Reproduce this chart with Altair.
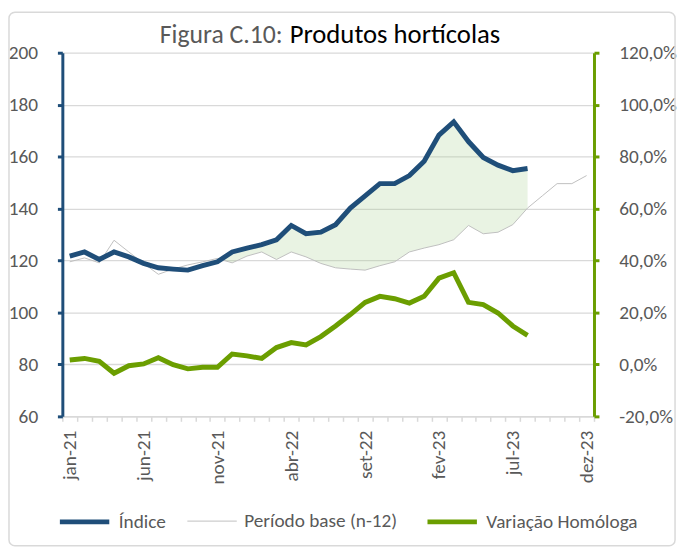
import json
import altair as alt
import pandas as pd

# ---------------- data ----------------
months = ["jan-21", "fev-21", "mar-21", "abr-21", "mai-21", "jun-21", "jul-21", "ago-21", "set-21", "out-21", "nov-21", "dez-21",
          "jan-22", "fev-22", "mar-22", "abr-22", "mai-22", "jun-22", "jul-22", "ago-22", "set-22", "out-22", "nov-22", "dez-22",
          "jan-23", "fev-23", "mar-23", "abr-23", "mai-23", "jun-23", "jul-23", "ago-23", "set-23", "out-23", "nov-23", "dez-23"]

indice = [121.7, 123.3, 120.4, 123.3, 121.4, 118.9, 117.2, 116.7, 116.3, 118.0, 119.5, 123.3,
          124.8, 126.1, 128.0, 133.5, 130.3, 130.9, 133.8, 140.2, 144.9, 149.6, 149.6, 152.7,
          158.2, 168.3, 173.4, 165.8, 159.7, 156.7, 154.6, 155.4]

periodo_base = [119.5, 121.0, 119.1, 127.8, 123.3, 118.9, 114.7, 116.7, 118.3, 119.5, 120.8, 119.1,
                121.7, 123.3, 120.4, 123.3, 121.4, 118.9, 117.2, 116.7, 116.3, 118.0, 119.5, 123.3,
                124.8, 126.1, 128.0, 133.5, 130.3, 130.9, 133.8, 140.2, 144.9, 149.6, 149.6, 152.7]

variacao = [0.017, 0.023, 0.012, -0.034, -0.005, 0.002, 0.026, -0.001, -0.017, -0.011, -0.011, 0.040,
            0.033, 0.023, 0.065, 0.084, 0.075, 0.107, 0.148, 0.192, 0.239, 0.262, 0.253, 0.236,
            0.262, 0.332, 0.353, 0.239, 0.230, 0.198, 0.148, 0.112]

series_names = ["Índice", "Período base (n-12)", "Variação Homóloga"]
left_ticks = [60, 80, 100, 120, 140, 160, 180, 200]
right_ticks = [-0.2, 0.0, 0.2, 0.4, 0.6, 0.8, 1.0, 1.2]
fill_start = 10

# ---------------- style ----------------
BLUE = "#1F4E79"
GREEN = "#6B9E00"
GRAY = "#BFBFBF"
GRID = "#D9D9D9"
TXT = "#595959"
FONT = "Carlito, Lato, sans-serif"
FS = 19.5
W, H = 538, 368

rows = []
for i, v in enumerate(indice):
    rows.append({"idx": i, "serie": series_names[0], "v": v})
for i, v in enumerate(periodo_base):
    rows.append({"idx": i, "serie": series_names[1], "v": v})
left_df = pd.DataFrame(rows)
right_df = pd.DataFrame({"idx": list(range(len(variacao))), "serie": series_names[2], "v": variacao})
fill_idx = list(range(fill_start, len(indice)))
fill_df = pd.DataFrame({
    "idx": fill_idx,
    "lo": [periodo_base[i] for i in fill_idx],
    "hi": [max(indice[i], periodo_base[i]) for i in fill_idx],
})

n = len(months)
tick_vals = [k - 0.5 for k in range(n + 1)]
lab_arr = [months[k] if k % 5 == 0 else "" for k in range(n)] + [""]
label_expr = json.dumps(lab_arr) + "[round(datum.value + 0.5)]"

x_scale = alt.Scale(domain=[-0.5, n - 0.5], nice=False, zero=False)
x_axis = alt.Axis(values=tick_vals, labelExpr=label_expr, labelAngle=270, grid=False,
                  domainColor=GRID, domainWidth=1.5, tickColor=GRID, tickWidth=1.5, tickSize=5,
                  labelPadding=9, labelOffset=W / n / 2, labelFlush=False, labelOverlap=False,
                  labelFontSize=FS, labelColor=TXT, labelFont=FONT, title=None)
x_enc = alt.X("idx:Q", scale=x_scale, axis=x_axis)

leg = alt.Legend(title=None, orient="none", legendX=-5, legendY=447, direction="horizontal",
                 symbolType="stroke", symbolSize=2500, labelFontSize=FS, labelColor=TXT,
                 labelFont=FONT, columnPadding=19, labelOffset=7, labelLimit=400)
color_enc = alt.Color("serie:N", scale=alt.Scale(domain=series_names, range=[BLUE, GRAY, GREEN]), legend=leg)
sw_enc = alt.StrokeWidth("serie:N", scale=alt.Scale(type="ordinal", domain=series_names, range=[5, 1, 5]),
                         legend=leg)

y_left_scale = alt.Scale(domain=[60, 200], nice=False, zero=False)
y_left_axis = alt.Axis(values=left_ticks, grid=True, gridColor=GRID, gridWidth=1.3,
                       domainColor=BLUE, domainWidth=3, tickColor=BLUE, tickWidth=3, tickSize=5,
                       labelPadding=20, labelFontSize=FS, labelColor=TXT, labelFont=FONT, title=None)
y_left = alt.Y("v:Q", scale=y_left_scale, axis=y_left_axis)

area = alt.Chart(fill_df).mark_area(color="#A9D08E", opacity=0.25).encode(
    x=x_enc,
    y=alt.Y("lo:Q", scale=y_left_scale, axis=y_left_axis),
    y2="hi:Q",
)

gray_line = alt.Chart(left_df[left_df.serie == series_names[1]]).mark_line().encode(
    x=x_enc, y=y_left, color=color_enc, strokeWidth=sw_enc,
)
blue_line = alt.Chart(left_df[left_df.serie == series_names[0]]).mark_line().encode(
    x=x_enc, y=y_left, color=color_enc, strokeWidth=sw_enc,
)

title_df = pd.DataFrame({"a": ["Figura C.10:"], "b": ["Produtos hortícolas"]})
title_a = alt.Chart(title_df).mark_text(align="right", baseline="alphabetic", fontSize=26, font=FONT,
                                        color=TXT).encode(text="a:N", x=alt.value(223), y=alt.value(-10))
title_b = alt.Chart(title_df).mark_text(align="left", baseline="alphabetic", fontSize=27, font=FONT,
                                        color="#000000").encode(text="b:N", x=alt.value(230), y=alt.value(-10))
frame = alt.Chart(title_df).mark_rect(fill="white", fillOpacity=0, stroke=GRID, strokeWidth=1.5,
                                      cornerRadius=6).encode(
    x=alt.value(-54), x2=alt.value(620), y=alt.value(-41), y2=alt.value(499))

left_layer = alt.layer(frame, area, gray_line, blue_line, title_a, title_b)

right_line = alt.Chart(right_df).mark_line().encode(
    x=x_enc,
    y=alt.Y("v:Q", scale=alt.Scale(domain=[-0.2, 1.2], nice=False, zero=False),
            axis=alt.Axis(values=right_ticks, orient="right", grid=False, format=".1%",
                          domainColor=GREEN, domainWidth=3, tickColor=GREEN, tickWidth=3, tickSize=5,
                          labelPadding=20, labelFontSize=FS, labelColor=TXT, labelFont=FONT, title=None)),
    color=color_enc,
    strokeWidth=sw_enc,
)

chart = alt.layer(left_layer, right_line).resolve_scale(y="independent").properties(
    width=W, height=H,
    autosize=alt.AutoSizeParams(type="none"),
    padding={"left": 55, "top": 42, "right": 85, "bottom": 134},
).configure(
    locale={"number": {"decimal": ",", "thousands": ".", "grouping": [3], "currency": ["", " €"], "minus": "-"}}
).configure_view(stroke=None)

chart.save("out.html", embed_options={"renderer": "svg", "actions": False})
